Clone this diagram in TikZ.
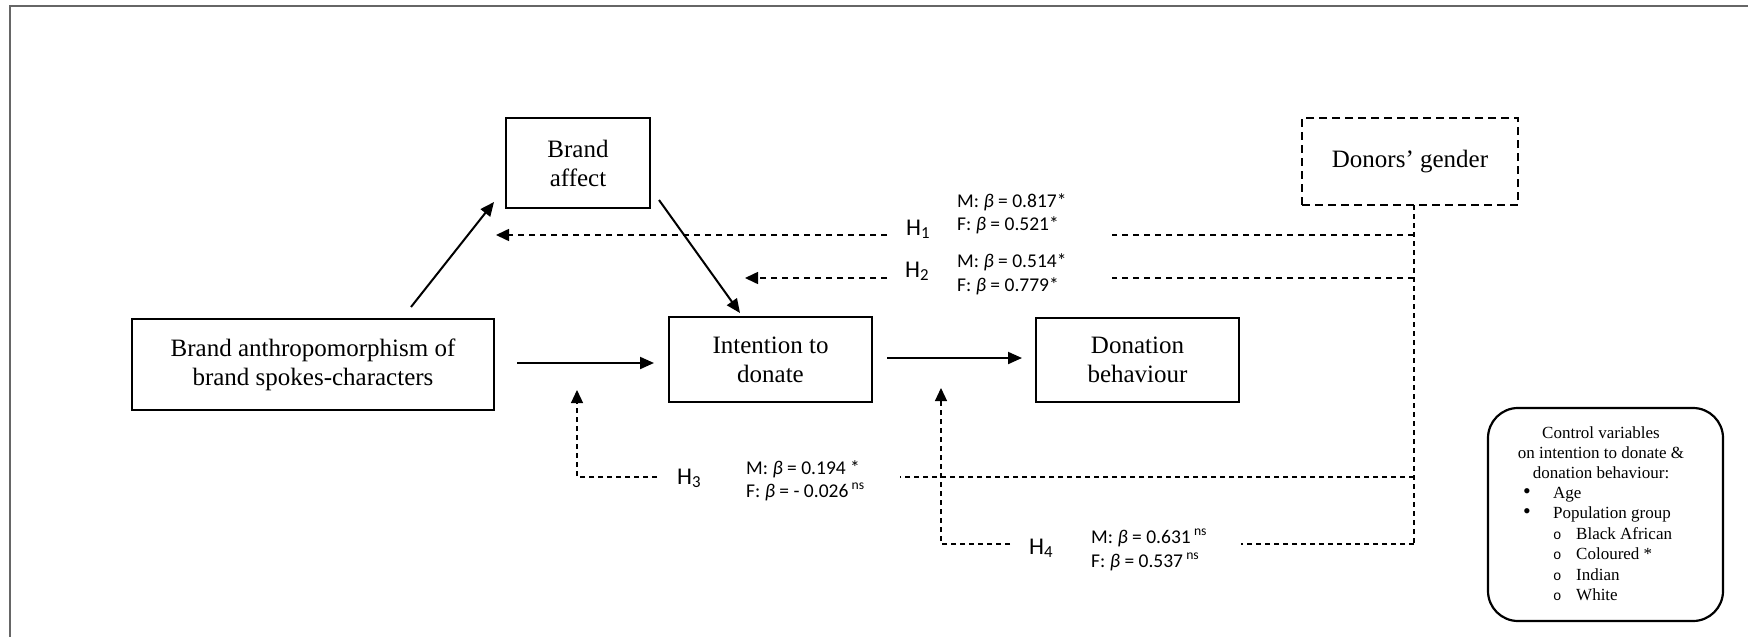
\documentclass[tikz,border=0pt]{standalone}
\usepackage{fontspec}
\setmainfont{Liberation Serif}
\newfontfamily\calib{Carlito}
\newfontfamily\monof{Liberation Mono}
\usetikzlibrary{arrows.meta}
\begin{document}
\begin{tikzpicture}[x=1pt,y=-1pt,
  box/.style={draw,line width=2.2pt,inner sep=0pt,align=center,font=\fontsize{25}{29}\selectfont},
  sol/.style={line width=2pt,-{Triangle[length=14pt,width=12pt]}},
  dsh/.style={line width=1.6pt,dash pattern=on 6pt off 5pt},
  dsharr/.style={dsh,-{Triangle[length=13pt,width=12pt]}},
  vdsh/.style={line width=1.2pt,dash pattern=on 5pt off 4pt},
  hlab/.style={anchor=base west,inner sep=0pt,font=\calib\fontsize{24}{28}\selectfont},
  coef/.style={anchor=base west,inner sep=0pt,font=\calib\fontsize{19.5}{23}\selectfont},
  ctext/.style={inner sep=0pt,font=\fontsize{17}{20.4}\selectfont},
]
\useasboundingbox (0,0) rectangle (1748,637);
% frame (top and left edges)
\draw[line width=2.5pt,black!60] (10,637) -- (10,6) -- (1748,6);

% boxes
\node[box,minimum width=362pt,minimum height=91pt] (anthro) at (313,364.5) {Brand anthropomorphism of\\brand spokes-characters};
\node[box,minimum width=144pt,minimum height=90pt] (affect) at (578,163) {Brand\\affect};
\node[box,minimum width=203pt,minimum height=85pt] (intent) at (770.5,359.5) {Intention to\\donate};
\node[box,minimum width=203pt,minimum height=84pt] (donation) at (1137.5,360) {Donation\\behaviour};
\node[box,line width=2pt,dash pattern=on 8pt off 5pt,minimum width=216pt,minimum height=87pt] (gender) at (1410,161.5) {Donors’ gender};
\node[draw,line width=2.2pt,rounded corners=30pt,minimum width=235pt,minimum height=213pt] (control) at (1605.5,514.5) {};

% control text
\node[ctext,align=center,anchor=north] (ctitle) at (1601,426) {Control variables\\on intention to donate \&\\donation behaviour:};
\node[ctext,align=left,anchor=north west] (citems) at (1523,487) {%
\makebox[30pt][l]{\fontsize{22}{20.4}\selectfont •}Age\\
\makebox[30pt][l]{\fontsize{22}{20.4}\selectfont •}Population group\\
\hspace*{30pt}\makebox[23pt][l]{\monof\fontsize{14}{20.4}\selectfont o}Black African\\
\hspace*{30pt}\makebox[23pt][l]{\monof\fontsize{14}{20.4}\selectfont o}Coloured *\\
\hspace*{30pt}\makebox[23pt][l]{\monof\fontsize{14}{20.4}\selectfont o}Indian\\
\hspace*{30pt}\makebox[23pt][l]{\monof\fontsize{14}{20.4}\selectfont o}White};

% solid arrows
\coordinate (a1s) at (411,307); \coordinate (a1e) at (494,202);
\coordinate (a2s) at (659,200); \coordinate (a2e) at (740,313);
\coordinate (a3s) at (517,363); \coordinate (a3e) at (654,363);
\coordinate (a4s) at (887,358); \coordinate (a4e) at (1022,358);
\draw[sol] (a1s) -- (a1e);
\draw[sol] (a2s) -- (a2e);
\draw[sol] (a3s) -- (a3e);
\draw[sol] (a4s) -- (a4e);

% moderator lines
\coordinate (g0) at (1414,205);
\coordinate (g1) at (1414,235);
\coordinate (g2) at (1414,278);
\coordinate (g3) at (1414,477);
\coordinate (g4) at (1414,544);
\draw[vdsh] (g0) -- (g4);

% H1
\coordinate (h1r) at (1112,235); \coordinate (h1l) at (887,235); \coordinate (h1e) at (496,235);
\draw[dsh] (g1) -- (h1r);
\draw[dsharr] (h1l) -- (h1e);
\node[hlab] (H1) at (906,235) {H\textsubscript{1}};
\node[coef] (H1m) at (957,207) {M: {\itshape β} = 0.817*};
\node[coef] (H1f) at (957,230) {F: {\itshape β} = 0.521*};

% H2
\coordinate (h2r) at (1112,278); \coordinate (h2l) at (887,278); \coordinate (h2e) at (745,278);
\draw[dsh] (g2) -- (h2r);
\draw[dsharr] (h2l) -- (h2e);
\node[hlab] (H2) at (905,277) {H\textsubscript{2}};
\node[coef] (H2m) at (957,267) {M: {\itshape β} = 0.514*};
\node[coef] (H2f) at (957,291) {F: {\itshape β} = 0.779*};

% H3
\coordinate (h3r) at (900,477); \coordinate (h3l) at (657,477); \coordinate (h3c) at (577,477); \coordinate (h3e) at (577,390);
\draw[vdsh] (g3) -- (h3r);
\draw[vdsh,-{Triangle[length=13pt,width=12pt]}] (h3l) -- (h3c) -- (h3e);
\node[hlab] (H3) at (677,484) {H\textsubscript{3}};
\node[coef] (H3m) at (746,474) {M: {\itshape β} = 0.194 *};
\node[coef] (H3f) at (746,497) {F: {\itshape β} = - 0.026\,\textsuperscript{ns}};

% H4
\coordinate (h4r) at (1241,544); \coordinate (h4l) at (1010,544); \coordinate (h4c) at (941,544); \coordinate (h4e) at (941,388);
\draw[vdsh] (g4) -- (h4r);
\draw[vdsh,-{Triangle[length=13pt,width=12pt]}] (h4l) -- (h4c) -- (h4e);
\node[hlab] (H4) at (1029,554) {H\textsubscript{4}};
\node[coef] (H4m) at (1091,543) {M: {\itshape β} = 0.631\,\textsuperscript{ns}};
\node[coef] (H4f) at (1091,567) {F: {\itshape β} = 0.537\,\textsuperscript{ns}};
\end{tikzpicture}
\end{document}
